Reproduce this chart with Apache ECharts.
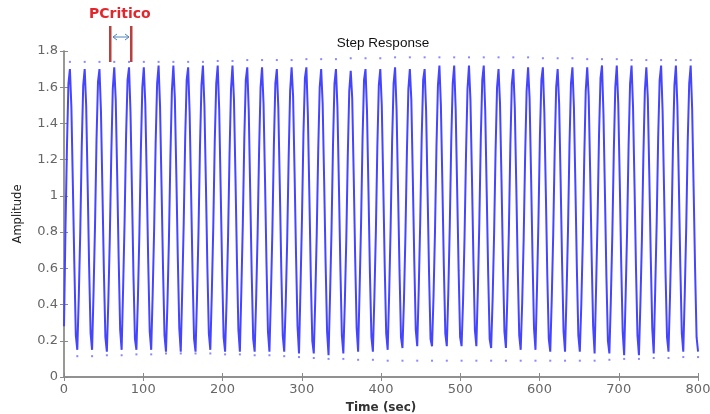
<!DOCTYPE html>
<html>
<head>
<meta charset="utf-8">
<script src="https://cdn.jsdelivr.net/npm/echarts@6/dist/echarts.min.js"></script>
<style>html,body{margin:0;padding:0;background:#fff}#c{width:710px;height:414px}</style>
</head>
<body>
<div id="c"></div>
<script>
// Sample time of the discrete response (sec)
const sampleTime = 1.865;
// Response samples, one row per oscillation cycle (10 samples each)
const response = [
 0.28,0.82,1.27,1.62,1.70,1.49,1.06,0.62,0.23,0.15,
 0.44,0.80,1.27,1.61,1.70,1.50,1.07,0.61,0.24,0.15,
 0.47,0.84,1.31,1.63,1.70,1.47,1.03,0.58,0.22,0.14,
 0.42,0.77,1.23,1.59,1.71,1.53,1.11,0.65,0.26,0.15,
 0.49,0.86,1.33,1.64,1.71,1.46,1.02,0.56,0.21,0.15,
 0.43,0.79,1.25,1.60,1.71,1.51,1.09,0.63,0.25,0.15,
 0.46,0.82,1.29,1.62,1.72,1.49,1.05,0.60,0.23,0.14,
 0.41,0.76,1.22,1.58,1.72,1.54,1.12,0.66,0.27,0.14,
 0.48,0.85,1.32,1.64,1.71,1.46,1.02,0.57,0.21,0.14,
 0.44,0.80,1.27,1.61,1.72,1.50,1.07,0.61,0.24,0.15,
 0.46,0.83,1.30,1.62,1.72,1.48,1.04,0.59,0.22,0.14,
 0.42,0.77,1.23,1.59,1.72,1.53,1.11,0.65,0.26,0.14,
 0.48,0.85,1.32,1.64,1.71,1.47,1.02,0.57,0.21,0.14,
 0.43,0.79,1.25,1.60,1.71,1.51,1.09,0.63,0.25,0.14,
 0.45,0.81,1.28,1.62,1.70,1.49,1.06,0.60,0.23,0.14,
 0.40,0.75,1.21,1.58,1.71,1.55,1.13,0.67,0.28,0.13,
 0.49,0.87,1.34,1.65,1.71,1.45,1.01,0.55,0.20,0.13,
 0.43,0.79,1.25,1.60,1.70,1.51,1.09,0.63,0.25,0.12,
 0.45,0.81,1.28,1.62,1.70,1.49,1.06,0.60,0.23,0.13,
 0.41,0.76,1.22,1.58,1.69,1.54,1.12,0.66,0.27,0.14,
 0.48,0.85,1.32,1.64,1.70,1.47,1.03,0.57,0.22,0.14,
 0.44,0.80,1.27,1.61,1.70,1.50,1.07,0.61,0.24,0.15,
 0.46,0.83,1.30,1.62,1.71,1.48,1.04,0.59,0.22,0.16,
 0.42,0.78,1.24,1.59,1.70,1.53,1.10,0.64,0.26,0.17,
 0.48,0.85,1.32,1.64,1.70,1.47,1.02,0.57,0.21,0.17,
 0.44,0.80,1.27,1.61,1.72,1.50,1.07,0.61,0.24,0.17,
 0.46,0.83,1.30,1.62,1.72,1.48,1.04,0.59,0.22,0.17,
 0.42,0.77,1.23,1.59,1.72,1.53,1.11,0.65,0.26,0.17,
 0.48,0.85,1.32,1.64,1.72,1.47,1.02,0.57,0.21,0.16,
 0.43,0.79,1.25,1.60,1.70,1.51,1.09,0.63,0.25,0.16,
 0.45,0.81,1.28,1.62,1.70,1.49,1.06,0.60,0.23,0.15,
 0.41,0.76,1.22,1.58,1.71,1.54,1.12,0.66,0.27,0.15,
 0.48,0.86,1.33,1.64,1.71,1.46,1.02,0.56,0.21,0.14,
 0.43,0.79,1.25,1.60,1.70,1.51,1.09,0.63,0.25,0.14,
 0.45,0.81,1.28,1.62,1.71,1.49,1.06,0.60,0.23,0.14,
 0.40,0.75,1.21,1.58,1.71,1.55,1.13,0.67,0.28,0.13,
 0.49,0.87,1.34,1.65,1.72,1.45,1.01,0.55,0.20,0.13,
 0.43,0.79,1.25,1.60,1.72,1.51,1.09,0.63,0.25,0.12,
 0.45,0.81,1.28,1.62,1.72,1.49,1.06,0.60,0.23,0.12,
 0.41,0.76,1.22,1.58,1.71,1.54,1.12,0.66,0.27,0.13,
 0.48,0.85,1.32,1.64,1.72,1.47,1.03,0.57,0.22,0.14,
 0.44,0.80,1.27,1.61,1.72,1.50,1.07,0.61,0.24,0.14,
 0.46,0.83,1.30,1.62,1.72,1.48,1.04,0.59,0.22,0.14
];
// Envelope dots above each peak and below each trough
const upperDots = [
 1.74,1.74,1.74,1.74,1.74,1.74,1.74,1.74,1.74,1.74,
 1.745,1.745,1.75,1.75,1.75,1.75,1.755,1.755,1.755,1.76,
 1.76,1.76,1.765,1.765,1.765,1.765,1.765,1.765,1.765,1.765,
 1.765,1.765,1.76,1.76,1.76,1.755,1.755,1.755,1.75,1.75,
 1.75,1.75,1.75
];
const lowerDots = [
 0.115,0.115,0.12,0.12,0.125,0.125,0.13,0.13,0.13,0.13,
 0.125,0.125,0.12,0.12,0.115,0.11,0.105,0.10,0.10,0.095,
 0.095,0.09,0.09,0.09,0.09,0.09,0.09,0.09,0.09,0.09,
 0.09,0.09,0.09,0.09,0.09,0.09,0.095,0.10,0.10,0.105,
 0.105,0.11,0.11
];
const samplesPerCycle = 10;
const xTicks = [0,100,200,300,400,500,600,700,800];
const yTicks = [0,0.2,0.4,0.6,0.8,1,1.2,1.4,1.6,1.8];

const lineData = response.map((v,i)=>[i*sampleTime, v]);
const upData = upperDots.map((v,k)=>[(k*samplesPerCycle+4)*sampleTime, v]);
const lowData = lowerDots.map((v,k)=>[(k*samplesPerCycle+9)*sampleTime, v]);

const chart = echarts.init(document.getElementById('c'), null, {renderer:'canvas'});
const axisCol = '#8a8a8a';
const lblStyle = {color:'#666', fontFamily:'DejaVu Sans', fontSize:13};
chart.setOption({
  animation:false,
  backgroundColor:'#ffffff',
  title:{text:'Step Response', left:378, top:31, textAlign:'center',
    textStyle:{fontFamily:'Liberation Sans', fontSize:13.5, fontWeight:'normal', color:'#111'}},
  grid:{left:64, right:12, top:51, bottom:37, containLabel:false, outerBoundsMode:'none'},
  xAxis:[{
    type:'value', min:xTicks[0], max:xTicks[xTicks.length-1], interval:100,
    name:'Time (sec)', nameLocation:'middle', nameGap:25,
    nameTextStyle:{fontFamily:'DejaVu Sans', fontSize:12, fontWeight:'bold', color:'#333'},
    axisLine:{lineStyle:{color:axisCol, width:1.5}},
    axisTick:{inside:true, length:4, lineStyle:{color:axisCol}},
    axisLabel:Object.assign({margin:6}, lblStyle),
    splitLine:{show:false}
  },{
    type:'value', position:'top', min:xTicks[0], max:xTicks[xTicks.length-1], interval:100,
    axisLine:{lineStyle:{color:axisCol, width:1.5}},
    axisTick:{inside:true, length:4, lineStyle:{color:axisCol}},
    axisLabel:{show:false}, splitLine:{show:false}
  }],
  yAxis:[{
    type:'value', min:yTicks[0], max:yTicks[yTicks.length-1], interval:0.2,
    name:'Amplitude', nameLocation:'middle', nameGap:40,
    nameTextStyle:{fontFamily:'DejaVu Sans', fontSize:11.5, color:'#222'},
    axisLine:{lineStyle:{color:'#b4ad8e', width:1.5}},
    axisTick:{inside:true, length:4, lineStyle:{color:axisCol}},
    axisLabel:Object.assign({margin:6}, lblStyle),
    splitLine:{show:false}
  },{
    type:'value', position:'right', min:yTicks[0], max:yTicks[yTicks.length-1], interval:0.2,
    axisLine:{show:true, lineStyle:{color:axisCol, width:1.5}},
    axisTick:{show:true, inside:true, length:4, lineStyle:{color:axisCol}},
    axisLabel:{show:false}, splitLine:{show:false}
  }],
  series:[{
    type:'line', step:'end', data:lineData, showSymbol:false,
    lineStyle:{color:'#4545ff', width:2}, silent:true
  },{
    type:'scatter', data:upData, symbol:'rect', symbolSize:2,
    itemStyle:{color:'#6b6bff'}, silent:true
  },{
    type:'scatter', data:lowData, symbol:'rect', symbolSize:2,
    itemStyle:{color:'#6b6bff'}, silent:true
  }],
  graphic:[
    {type:'text', left:89, top:7, style:{text:'PCritico', fill:'#e3262b', font:'bold 14px "DejaVu Sans"'}},
    {type:'rect', shape:{x:109, y:26, width:2.5, height:36}, style:{fill:'#b8413f'}},
    {type:'rect', shape:{x:130, y:26, width:2.5, height:36}, style:{fill:'#b8413f'}},
    {type:'line', shape:{x1:113, y1:37, x2:129, y2:37}, style:{stroke:'#4f81bd', lineWidth:1}},
    {type:'polyline', shape:{points:[[117,34],[113,37],[117,40]]}, style:{stroke:'#4f81bd', lineWidth:1, fill:null}},
    {type:'polyline', shape:{points:[[125,34],[129,37],[125,40]]}, style:{stroke:'#4f81bd', lineWidth:1, fill:null}}
  ]
});
</script>
</body>
</html>
